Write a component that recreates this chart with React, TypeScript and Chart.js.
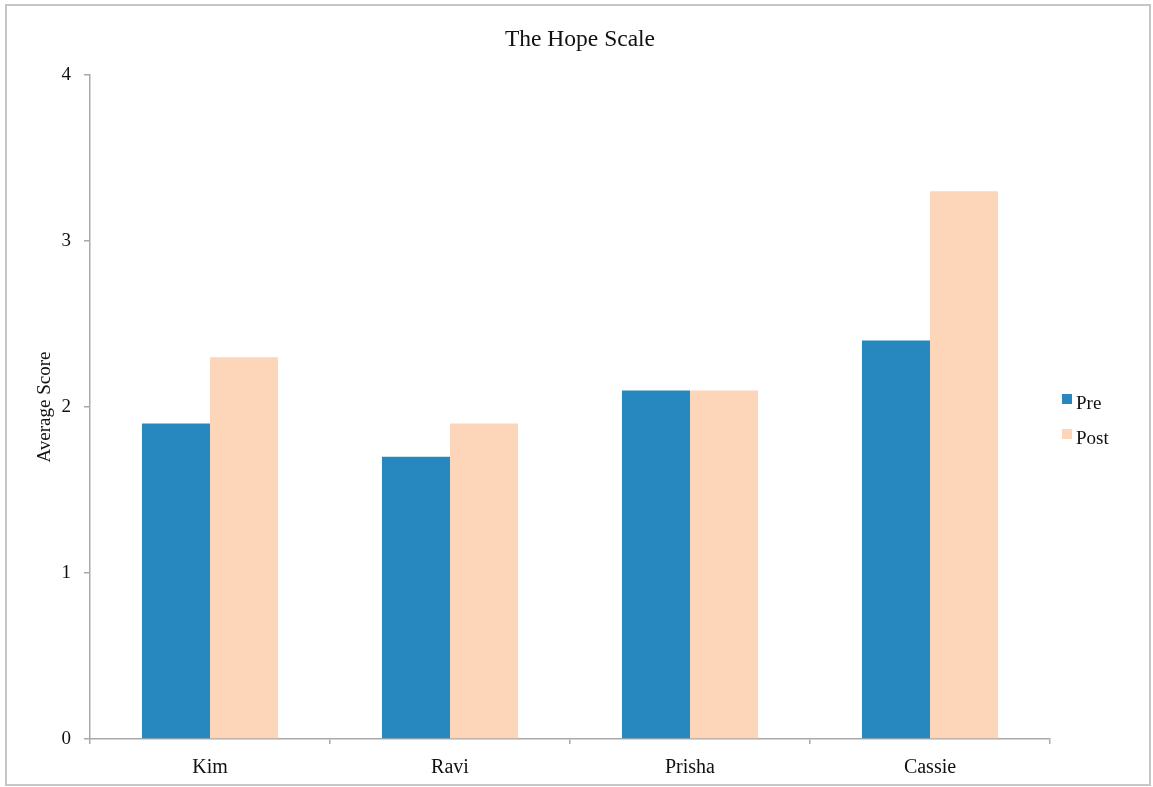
import React, { useEffect, useRef } from "react";
import { Chart, registerables } from "chart.js";

Chart.register(...registerables);

const categories = ["Kim", "Ravi", "Prisha", "Cassie"];
const preValues = [1.9, 1.7, 2.1, 2.4];
const postValues = [2.3, 1.9, 2.1, 3.3];
const seriesNames = ["Pre", "Post"];
const chartTitle = "The Hope Scale";
const yAxisTitle = "Average Score";

const FONT = "'Liberation Serif', 'Times New Roman', serif";
const AXIS_GRAY = "#a9a9a9";

const frameTitleLegend = {
  id: "frameTitleLegend",
  afterDraw(chart: any) {
    const ctx = chart.ctx;
    ctx.save();
    ctx.strokeStyle = "#c6c6c6";
    ctx.lineWidth = 2;
    ctx.strokeRect(6, 5, 1144, 780);

    ctx.fillStyle = "#111";
    ctx.font = `23.5px ${FONT}`;
    ctx.textAlign = "center";
    ctx.textBaseline = "middle";
    ctx.fillText(chartTitle, 580, 40);

    const items = chart.data.datasets;
    ctx.font = `19px ${FONT}`;
    ctx.textBaseline = "middle";
    ctx.textAlign = "left";
    items.forEach((ds: any, i: number) => {
      const y = 403 + i * 35;
      ctx.fillStyle = ds.backgroundColor;
      ctx.fillRect(1062, y - 9, 10, 10);
      ctx.fillStyle = "#111";
      ctx.fillText(ds.label, 1076, y + 1);
    });
    ctx.restore();
  },
};

export default function App() {
  const ref = useRef<HTMLCanvasElement>(null);
  useEffect(() => {
    document.body.style.margin = "0";
    const chart = new Chart(ref.current as HTMLCanvasElement, {
      type: "bar",
      data: {
        labels: categories,
        datasets: [
          { label: seriesNames[0], data: preValues, backgroundColor: "#2788c0" },
          { label: seriesNames[1], data: postValues, backgroundColor: "#fdd5b9" },
        ],
      },
      plugins: [frameTitleLegend],
      options: {
        responsive: false,
        animation: false,
        devicePixelRatio: 1,
        layout: { padding: { left: 5, right: 103, top: 75, bottom: 0 } },
        datasets: { bar: { categoryPercentage: 0.567, barPercentage: 1.0 } },
        plugins: {
          legend: { display: false },
          tooltip: { enabled: false },
          title: { display: false },
        },
        scales: {
          x: {
            grid: {
              display: true,
              drawOnChartArea: false,
              drawTicks: true,
              tickLength: 5,
              color: AXIS_GRAY,
              lineWidth: 1.5,
              offset: true,
            },
            border: { display: true, color: AXIS_GRAY, width: 1.5 },
            ticks: {
              color: "#111",
              font: { family: FONT, size: 20 },
              padding: 12,
              maxRotation: 0,
            },
            afterFit: (s: any) => {
              s.height = 48;
            },
          },
          y: {
            min: 0,
            max: 4,
            grid: {
              display: true,
              drawOnChartArea: false,
              drawTicks: true,
              tickLength: 6,
              color: AXIS_GRAY,
              lineWidth: 1.5,
            },
            border: { display: true, color: AXIS_GRAY, width: 1.5 },
            ticks: {
              stepSize: 1,
              color: "#111",
              font: { family: FONT, size: 19 },
              padding: 13,
            },
            title: {
              display: true,
              text: yAxisTitle,
              color: "#111",
              font: { family: FONT, size: 19 },
              padding: { top: 28.6, bottom: 0 },
            },
            afterFit: (s: any) => {
              s.width = 85;
            },
          },
        },
      },
    } as any);
    return () => chart.destroy();
  }, []);
  return (
    <div style={{ width: 1153, height: 787 }}>
      <canvas ref={ref} width={1153} height={787} style={{ display: "block" }} />
    </div>
  );
}
